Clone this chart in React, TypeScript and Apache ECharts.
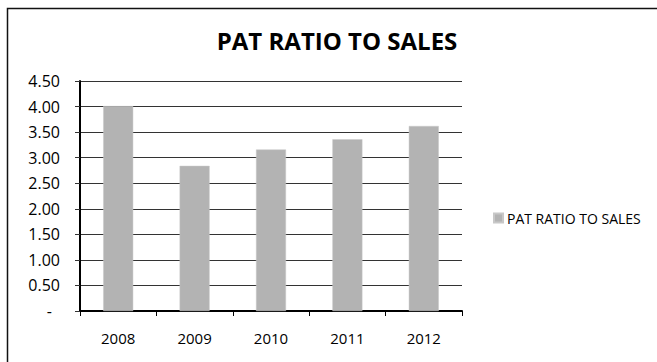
import React, { useEffect, useRef } from "react";
import * as echarts from "echarts";

const categories = ["2008", "2009", "2010", "2011", "2012"];
const patRatio = [4.01, 2.84, 3.16, 3.36, 3.62];
const seriesName = "PAT RATIO TO SALES";
const titleText = "PAT RATIO TO SALES";

export default function App() {
  const ref = useRef<HTMLDivElement>(null);
  useEffect(() => {
    if (!ref.current) return;
    const chart = echarts.init(ref.current, null, { renderer: "svg" });
    const font = "'Open Sans', Lato, sans-serif";
    chart.setOption({
      animation: false,
      backgroundColor: "#ffffff",
      textStyle: { fontFamily: font },
      title: {
        text: titleText,
        left: 332,
        top: 23,
        textAlign: "center",
        textStyle: { fontFamily: font, fontWeight: "bold", fontSize: 24, color: "#000" },
      },
      legend: {
        orient: "vertical",
        left: 488,
        top: 206,
        itemWidth: 9,
        itemHeight: 9,
        itemGap: 4,
        icon: "rect",
        textStyle: { fontFamily: font, fontSize: 14, color: "#000", padding: [0, 0, 0, -1] },
        data: [seriesName],
      },
      grid: { left: 80, top: 81, right: 195, bottom: 51, containLabel: false },
      xAxis: {
        type: "category",
        data: categories,
        axisLine: { lineStyle: { color: "#000", width: 2 } },
        axisTick: { show: true, length: 5, lineStyle: { color: "#000", width: 1 }, alignWithLabel: false },
        axisLabel: { fontFamily: font, fontSize: 15, color: "#000", margin: 19 },
      },
      yAxis: {
        type: "value",
        min: 0,
        max: 4.5,
        interval: 0.5,
        axisLine: { show: true, lineStyle: { color: "#000", width: 2 } },
        axisTick: { show: true, length: 5, lineStyle: { color: "#333", width: 1 } },
        splitLine: { lineStyle: { color: "#333", width: 1 } },
        axisLabel: {
          fontFamily: font,
          fontSize: 16,
          color: "#000",
          margin: 20,
          formatter: (v: number) => (v === 0 ? "{d|-}" : v.toFixed(2)),
          rich: { d: { fontFamily: font, fontSize: 16, color: "#000", padding: [0, 8, 0, 0] } },
        },
      },
      series: [
        {
          name: seriesName,
          type: "bar",
          data: patRatio,
          barWidth: 30,
          itemStyle: { color: "#b3b3b3", borderColor: "#c8c8c8", borderWidth: 0.5 },
        },
      ],
      graphic: [
        {
          type: "rect",
          shape: { x: 7.5, y: 8.5, width: 700, height: 400 },
          style: { fill: "none", stroke: "#111", lineWidth: 1.5 },
          silent: true,
        },
      ],
    });
    return () => chart.dispose();
  }, []);
  return <div ref={ref} style={{ position: "fixed", left: 0, top: 0, width: 657, height: 362 }} />;
}
